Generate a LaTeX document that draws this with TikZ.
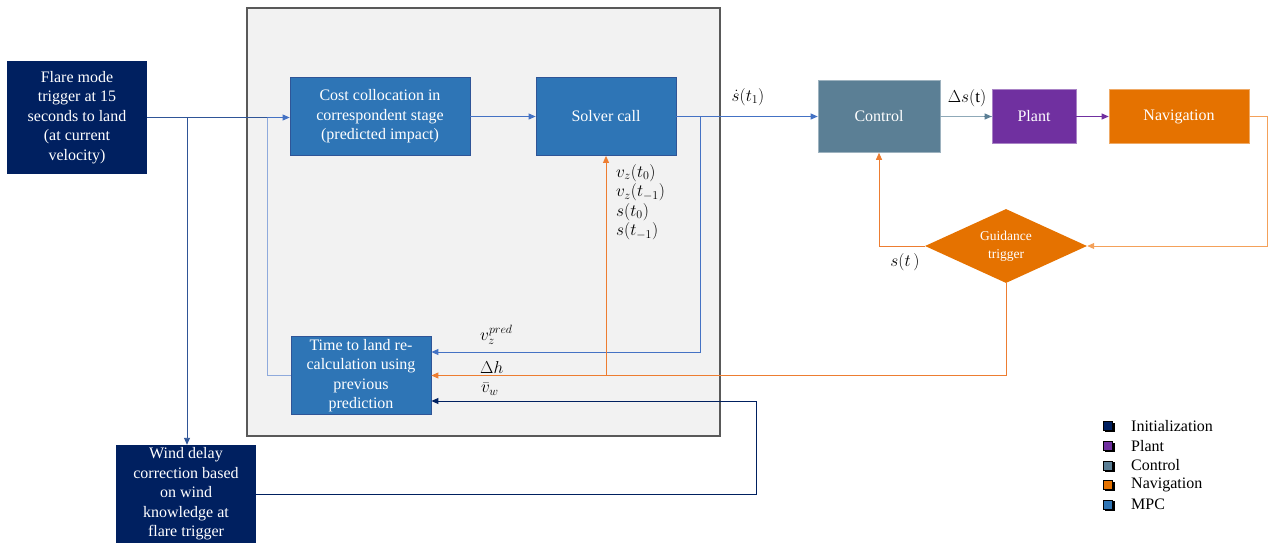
\documentclass[tikz,border=0pt]{standalone}
\usepackage{fontspec}
\setmainfont{Liberation Serif}
\usetikzlibrary{arrows.meta,shapes.geometric}
\definecolor{navy}{HTML}{002060}
\definecolor{mpcblue}{HTML}{2E75B6}
\definecolor{mpcborder}{HTML}{2F5597}
\definecolor{linkblue}{HTML}{4472C4}
\definecolor{lightblue}{HTML}{8FAADC}
\definecolor{ctrlcol}{HTML}{5B7F95}
\definecolor{ctrlline}{HTML}{8FA9B8}
\definecolor{plantcol}{HTML}{7030A0}
\definecolor{navcol}{HTML}{E57200}
\definecolor{orangeline}{HTML}{ED7D31}
\definecolor{navline}{HTML}{F4A15A}
\definecolor{greyfill}{HTML}{F2F2F2}
\definecolor{greyborder}{HTML}{595959}
\tikzset{
  every node/.style={font=\fontsize{16}{19.5}\selectfont},
  blockbox/.style={rectangle, inner sep=0pt, align=center, text=white},
  initbox/.style={blockbox, fill=navy},
  mpcbox/.style={blockbox, fill=mpcblue, draw=mpcborder, line width=0.8pt},
  conn/.style={line width=0.9pt, -{Triangle[length=7pt,width=6pt]}},
  plain/.style={line width=0.9pt},
  lab/.style={inner sep=0pt, text=black},
  mlab/.style={lab, font=\fontsize{17}{19.5}\selectfont},
  legsq/.style={minimum width=9pt, minimum height=9pt, inner sep=0pt, draw=black, line width=0.8pt},
}
\begin{document}
\begin{tikzpicture}[x=1pt,y=-1pt]
\useasboundingbox (0,0) rectangle (1276,543);
\clip (0,0) rectangle (1276,543);

% MPC container
\node[rectangle, fill=greyfill, draw=greyborder, line width=1.6pt,
      minimum width=473pt, minimum height=428pt, inner sep=0pt] (mpc) at (483.5,222) {};

% blocks
\node[initbox, minimum width=140pt, minimum height=113pt] (flare) at (77,117.5)
  {Flare mode\\trigger at 15\\seconds to land\\(at current\\velocity)};
\node[initbox, minimum width=140pt, minimum height=98pt] (wind) at (186,494)
  {Wind delay\\correction based\\on wind\\knowledge at\\flare trigger};
\node[mpcbox, minimum width=180pt, minimum height=78pt] (cost) at (380,116.5)
  {Cost collocation in\\correspondent stage\\(predicted impact)};
\node[mpcbox, minimum width=140pt, minimum height=78pt] (solver) at (606,116.5)
  {Solver call};
\node[mpcbox, minimum width=140pt, minimum height=78pt] (time) at (361,375.5)
  {Time to land re-\\calculation using\\previous\\prediction};
\node[blockbox, fill=ctrlcol, draw=ctrlcol!60!white, line width=0.6pt,
      minimum width=122pt, minimum height=72pt] (control) at (879,116.5) {Control};
\node[blockbox, fill=plantcol, draw=plantcol!60!white, line width=0.6pt,
      minimum width=84pt, minimum height=54pt] (plant) at (1034,116.5) {Plant};
\node[blockbox, fill=navcol, draw=navcol!60!white, line width=0.6pt,
      minimum width=140pt, minimum height=54pt] (nav) at (1179,116.5) {Navigation};
\node[diamond, aspect=2.2, fill=navcol, inner sep=0pt, text=white, align=center,
      minimum width=162pt, minimum height=74pt,
      font=\fontsize{13.5}{18}\selectfont] (guid) at (1006,246) {Guidance\\trigger};

% junction coordinates
\coordinate (j1) at (187,117.5);
\coordinate (j2) at (700,116.5);
\coordinate (r1) at (267,117.5);
\coordinate (w1) at (756,401);
\coordinate (n1) at (1267,246);
\coordinate (o1) at (solver.south |- time.east);

% connectors
\draw[plain, draw=mpcborder] (flare.east) -- (r1);
\draw[conn, draw=linkblue] (r1) -- (r1 -| cost.west);
\draw[conn, draw=mpcborder] (j1) -- (j1 |- wind.north);
\draw[plain, draw=lightblue] (time.west) -| (r1);
\draw[conn, draw=linkblue] (cost.east) -- (solver.west);
\draw[conn, draw=linkblue] (solver.east) -- (control.west);
\draw[conn, draw=linkblue] (j2) |- ([yshift=23.5pt]time.east);
\draw[conn, draw=orangeline] (guid.south) |- (time.east);
\draw[conn, draw=orangeline] (o1) -- (solver.south);
\draw[conn, draw=navy] (wind.east) -| (w1) -- ([yshift=-25.5pt]time.east);
\draw[plain, draw=ctrlline] (control.east) -- (plant.west);
\draw[conn, draw=ctrlcol] ([xshift=-8pt]plant.west) -- (plant.west);
\draw[conn, draw=plantcol] (plant.east) -- (nav.west);
\draw[conn, draw=navline] (nav.east) -| (n1) -- (guid.east);
\draw[conn, draw=orangeline] (guid.west) -| (control.south);

% labels
\node[mlab] (ls1) at (748,97) {$\dot{s}(t_1)$};
\node[mlab] (lds) at (967,98) {$\Delta s(\mathrm{t})$};
\node[mlab] (lst) at (905,262) {$s(t\,)$};
\node[mlab, anchor=west] (lv1) at (616,173) {$v_z(t_0)$};
\node[mlab, anchor=west] (lv2) at (616,192.5) {$v_z(t_{-1})$};
\node[mlab, anchor=west] (lv3) at (616,212) {$s(t_0)$};
\node[mlab, anchor=west] (lv4) at (616,231.5) {$s(t_{-1})$};
\node[mlab, anchor=west] (lvp) at (480,335) {$v_z^{pred}$};
\node[mlab, anchor=west] (ldh) at (480,367) {$\Delta h$};
\node[mlab, anchor=west] (lvw) at (481,389) {$\bar{v}_w$};

% legend
\foreach \y/\c/\t [count=\i] in {426/navy/Initialization, 446/plantcol/Plant,
    465.5/ctrlcol/Control, 485/navcol/Navigation, 504.5/mpcblue/MPC}{
  \fill[black] (1104.5,\y-3.5) rectangle (1114.5,\y+6);
  \node[legsq, fill=\c] (sq\i) at (1107.5,\y) {};
  \node[lab, anchor=west] (lt\i) at (1131,\y) {\t};
}
\end{tikzpicture}
\end{document}
